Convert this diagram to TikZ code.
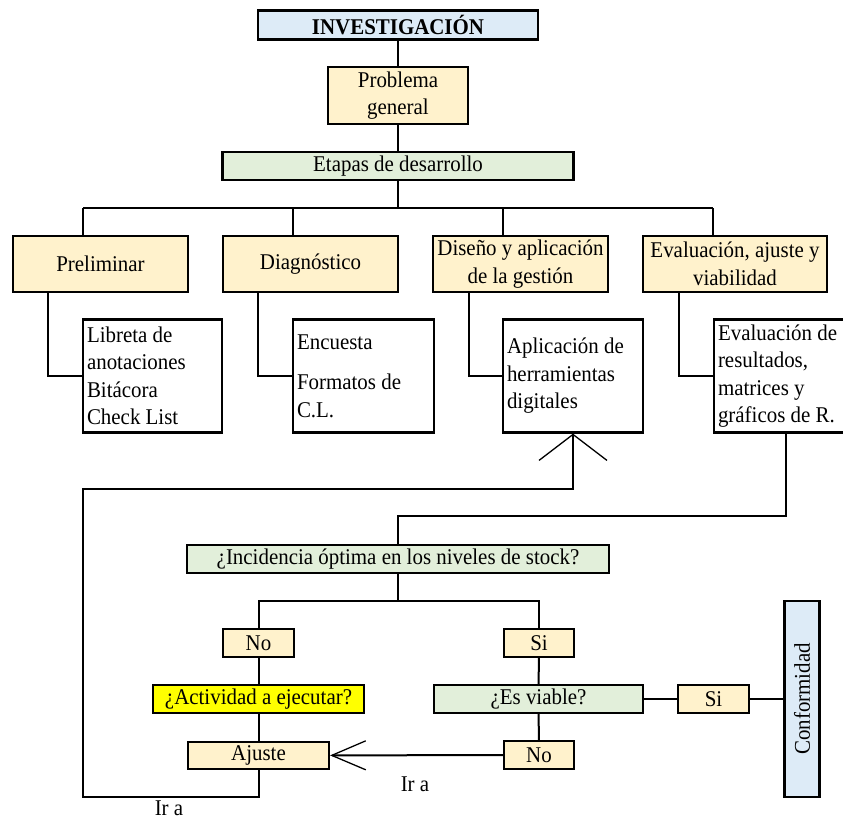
\documentclass[tikz,border=0pt]{standalone}
\usepackage{fontspec}
\setmainfont{Liberation Serif}[FakeStretch=0.93]
\usetikzlibrary{arrows.meta}
\definecolor{cream}{HTML}{FFF2CC}
\definecolor{mint}{HTML}{E2EFDA}
\definecolor{skyb}{HTML}{DDEBF7}
\definecolor{brightyellow}{HTML}{FFFF00}
\tikzset{
  txt/.style={font=\fontsize{22.5}{27.5}\selectfont, inner sep=0pt},
  box/.style={txt, draw=black, line width=2.2pt, align=center},
  listbox/.style={box, fill=white, align=left,
    execute at begin node={\spaceskip=0pt\xspaceskip=0pt\relax}},
  link/.style={line width=2pt},
}
\begin{document}
\begin{tikzpicture}[x=1pt,y=-1pt]
\useasboundingbox (0,0) rectangle (843,820);
\clip (0,0) rectangle (843,820);

% top of the tree
\node[box, fill=skyb, minimum width=280pt, minimum height=29pt] (inv) at (398,25) {\textbf{INVESTIGACIÓN}};
\node[box, fill=cream, minimum width=140pt, minimum height=57pt] (prob) at (398,95.5) {Problema\\general};
\node[box, fill=mint, minimum width=351pt, minimum height=28pt] (etap) at (398,166) {Etapas de desarrollo};

% stages
\node[box, fill=cream, minimum width=175pt, minimum height=56pt] (prel) at (100.5,264) {Preliminar};
\node[box, fill=cream, minimum width=175pt, minimum height=56pt] (diag) at (310.5,264) {Diagnóstico};
\node[box, fill=cream, minimum width=175pt, minimum height=56pt] (dise) at (520.5,264) {Diseño y aplicación\\de la gestión};
\node[box, fill=cream, minimum width=184pt, minimum height=56pt] (eval) at (735,264) {Evaluación, ajuste y\\viabilidad};

% tools of each stage
\node[listbox, minimum width=139pt, minimum height=113pt, text width=131pt] (lib) at (152.5,376) {Libreta de\\anotaciones\\Bitácora\\Check List};
\node[listbox, minimum width=141pt, minimum height=113pt, text width=133pt] (enc) at (363.5,376) {Encuesta\\[13pt]Formatos de\\C.L.};
\node[listbox, minimum width=140pt, minimum height=113pt, text width=132pt] (apl) at (573,376) {Aplicación de\\herramientas\\digitales};
\node[listbox, minimum width=150pt, minimum height=113pt, text width=142pt] (evr) at (789,376) {Evaluación de\\resultados,\\matrices y\\gráficos de R.};

% decision part
\node[box, fill=mint, minimum width=422pt, minimum height=28pt] (incid) at (398,559) {¿Incidencia óptima en los niveles de stock?};
\node[box, fill=cream, minimum width=71pt, minimum height=28pt] (no1) at (258.5,643) {No};
\node[box, fill=cream, minimum width=70pt, minimum height=28pt] (si1) at (539,643) {Si};
\node[box, fill=brightyellow, minimum width=211pt, minimum height=28pt] (act) at (258.5,699) {¿Actividad a ejecutar?};
\node[box, fill=mint, minimum width=209pt, minimum height=28pt] (viab) at (538.5,699) {¿Es viable?};
\node[box, fill=cream, minimum width=71pt, minimum height=28pt] (si2) at (713.5,699) {Si};
\node[box, fill=skyb, minimum width=196pt, minimum height=35pt, rotate=90] (conf) at (802,699) {Conformidad};
\node[box, fill=cream, minimum width=141pt, minimum height=27pt] (ajus) at (258.5,755.5) {Ajuste};
\node[box, fill=cream, minimum width=70pt, minimum height=28pt] (no2) at (539,755) {No};

\node[txt] (ira1) at (169,808) {Ir a};
\node[txt] (ira2) at (415,784) {Ir a};

% helper points for the elbow connectors
\coordinate (b1) at (83,208);
\coordinate (b2) at (292.5,208);
\coordinate (b3) at (503,208);
\coordinate (b4) at (713,208);
\coordinate (d1) at (48,0);
\coordinate (d2) at (258,0);
\coordinate (d3) at (468.5,0);
\coordinate (d4) at (678.5,0);
\coordinate (loopA) at (83,797);
\coordinate (loopB) at (83,489);
\coordinate (e1) at (786,0);
\coordinate (j1) at (786,516);
\coordinate (fk) at (0,601);

% connectors of the tree
\draw[link] (inv) -- (prob);
\draw[link] (prob) -- (etap);
\draw[link] (etap.south) -- (etap.south |- b1);
\draw[link] (b1) -- (b4);
\draw[link] (b1) -- (b1 |- prel.north);
\draw[link] (b2) -- (b2 |- diag.north);
\draw[link] (b3) -- (b3 |- dise.north);
\draw[link] (b4) -- (b4 |- eval.north);
\draw[link] (prel.south -| d1) |- (lib.west);
\draw[link] (diag.south -| d2) |- (enc.west);
\draw[link] (dise.south -| d3) |- (apl.west);
\draw[link] (eval.south -| d4) |- (evr.west);

% feedback loop back to the tools
\draw[link, {Straight Barb[length=26pt, width=68pt, line width=1.3pt]}-] (apl.south) |- (loopB) -- (loopA) -| (ajus.south);

% evaluation into the decision
\draw[link] (evr.south -| e1) -- (j1) -| (incid.north);
\draw[link] (incid.south) -- (incid.south |- fk);
\draw[link] (no1.north) -- (no1.north |- fk) -- (si1.north |- fk) -- (si1.north);
\draw[link] (no1) -- (act);
\draw[link] (act) -- (ajus);
\draw[link] (si1) -- (viab);
\draw[link] (viab) -- (no2);
\draw[link] (viab) -- (si2);
\draw[link] (si2) -- (conf);
\draw[link, -{Straight Barb[length=34pt, width=29pt, line width=1.3pt]}] (no2) -- (ajus);
\end{tikzpicture}
\end{document}
